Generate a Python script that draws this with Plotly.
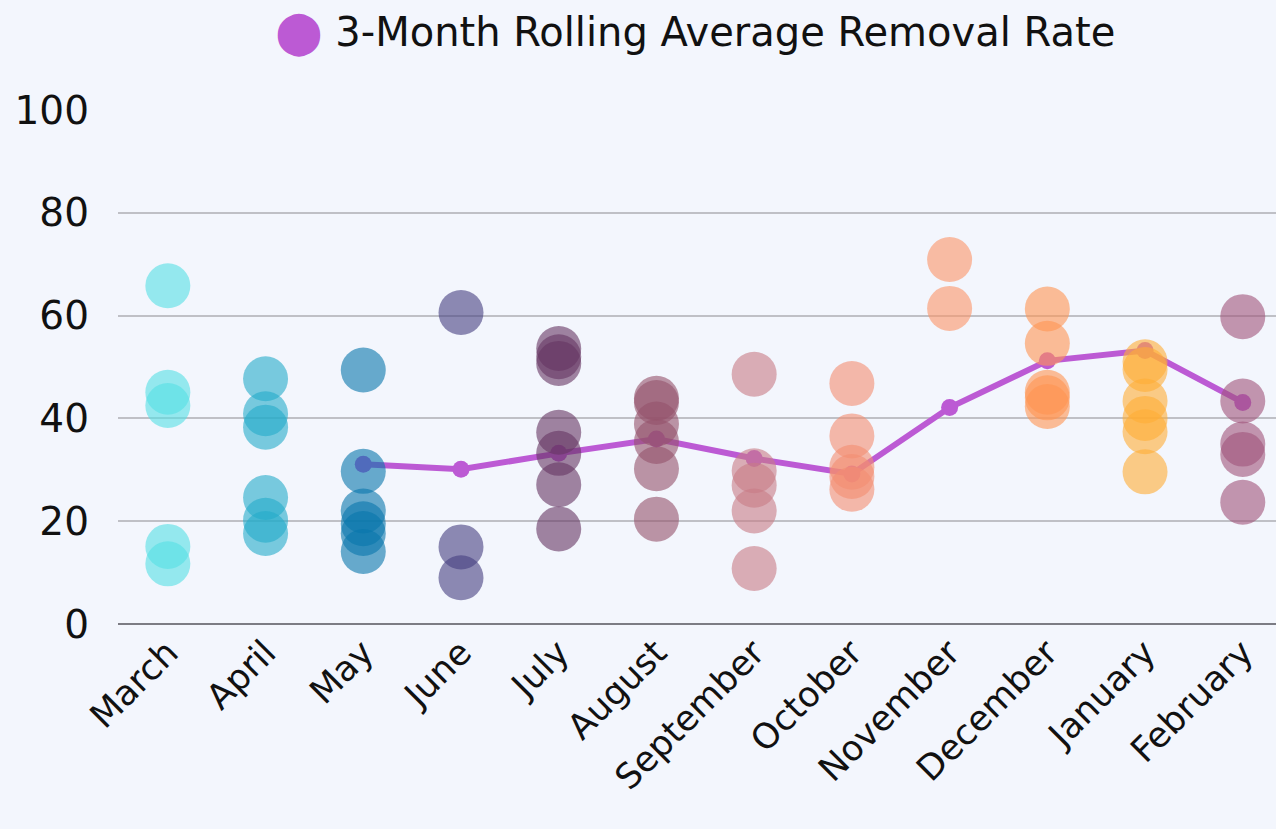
import plotly.graph_objects as go

months = ["March", "April", "May", "June", "July", "August", "September",
          "October", "November", "December", "January", "February"]

rates_march = [65.8, 45.1, 42.5, 15.1, 11.7]
rates_april = [47.7, 40.9, 38.3, 24.6, 20.2, 17.6]
rates_may = [49.4, 29.7, 22.0, 19.5, 17.6, 14.1]
rates_june = [60.6, 15.0, 9.0]
rates_july = [53.6, 52.0, 50.7, 37.3, 33.2, 27.1, 18.5]
rates_august = [43.9, 43.1, 38.9, 35.5, 30.2, 20.4]
rates_september = [48.6, 29.8, 27.0, 22.0, 10.8]
rates_october = [46.8, 36.6, 30.5, 28.7, 26.2]
rates_november = [70.9, 61.4]
rates_december = [61.3, 54.6, 45.1, 44.0, 42.3]
rates_january = [51.0, 49.5, 43.4, 40.0, 37.4, 29.6]
rates_february = [59.8, 43.4, 35.0, 33.0, 23.7]

monthly_rates = [rates_march, rates_april, rates_may, rates_june, rates_july,
                 rates_august, rates_september, rates_october, rates_november,
                 rates_december, rates_january, rates_february]

month_colors = ["#55e0e4", "#24abc9", "#0876ab", "#464080", "#653562", "#95516a",
                "#c87c85", "#f48e72", "#fb9467", "#ff9451", "#ffae35", "#a05479"]

rolling_months = months[2:]
rolling_avg = [31.1, 30.1, 33.2, 36.0, 32.2, 29.2, 42.1, 51.2, 53.2, 43.1]

LINE_COLOR = "#bc5ad4"
FONT = "DejaVu Sans"

fig = go.Figure()

fig.add_trace(go.Scatter(
    x=rolling_months, y=rolling_avg, mode="lines+markers",
    line=dict(color=LINE_COLOR, width=6),
    marker=dict(color=LINE_COLOR, size=17),
    name="3-Month Rolling Average Removal Rate", showlegend=False,
))

for m, vals, col in zip(months, monthly_rates, month_colors):
    fig.add_trace(go.Scatter(
        x=[m] * len(vals), y=vals, mode="markers",
        marker=dict(color=col, size=45, opacity=0.6, line=dict(width=0)),
        showlegend=False, name=m,
    ))

fig.update_layout(
    width=1276, height=829,
    paper_bgcolor="#f3f6fd", plot_bgcolor="#f3f6fd",
    margin=dict(l=118, r=0, t=110, b=205),
    font=dict(family=FONT, color="#111111", size=34),
    title=dict(
        text=f"<span style='color:{LINE_COLOR};font-size:42px'>⬤</span> 3-Month Rolling Average Removal Rate",
        x=0.545, xanchor="center", y=0.962, yanchor="middle",
        font=dict(family=FONT, size=40, color="#111111"),
    ),
    xaxis=dict(
        type="category", categoryorder="array", categoryarray=months,
        range=[-0.51, 11.34], tickangle=-45, showgrid=False, zeroline=False,
        showline=False, ticks="", tickfont=dict(size=35),
    ),
    yaxis=dict(
        range=[0, 100], tickvals=[0, 20, 40, 60, 80, 100],
        showgrid=True, gridcolor="#bfc0c6", gridwidth=2,
        zeroline=True, zerolinecolor="#7c7c84", zerolinewidth=2,
        ticks="", ticklabelstandoff=28, tickfont=dict(size=39),
    ),
)

fig.write_html("out.html", config={"displayModeBar": False},
               post_script="document.body.style.margin='0';document.body.style.padding='0';")
